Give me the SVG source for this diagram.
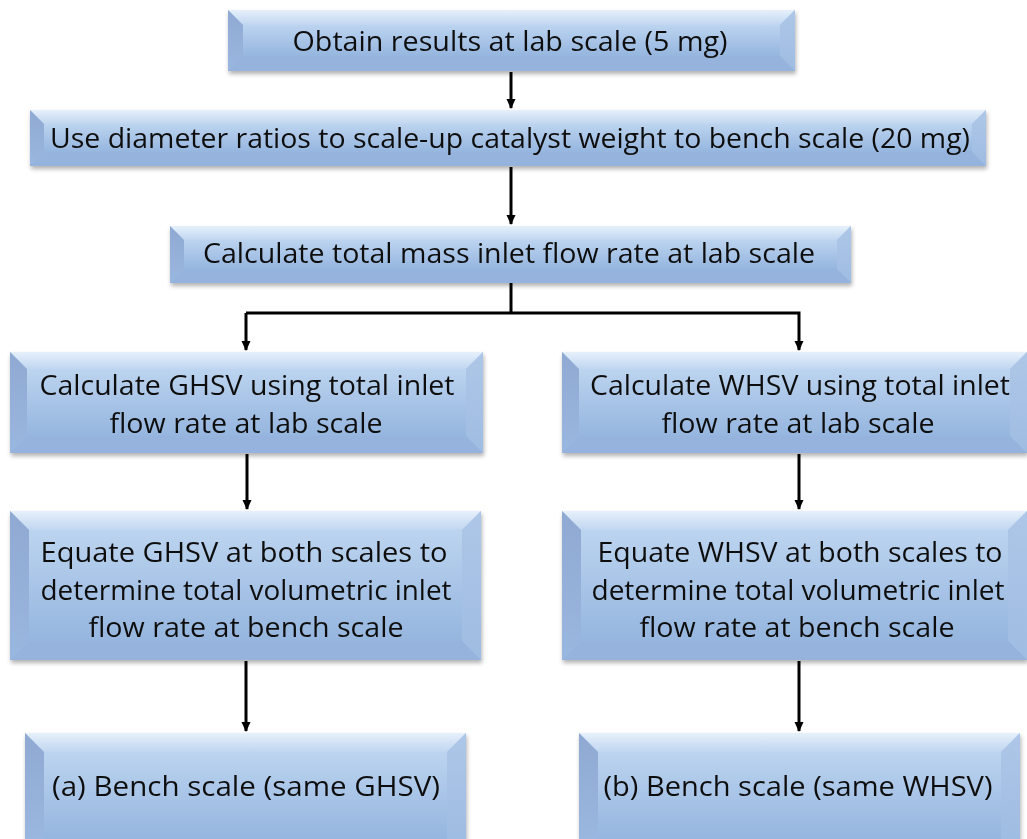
<svg xmlns="http://www.w3.org/2000/svg" width="1027" height="839" viewBox="0 0 1027 839">
<style>
.face{fill:url(#gFace)}
.bt{fill:url(#gTop)}
.bl{fill:url(#gLeft)}
.br{fill:url(#gRight)}
.bb{fill:#95b3dc}
.t{font-family:"Open Sans","Noto Sans",sans-serif;font-size:27px;fill:#111;text-anchor:middle}
.c{stroke:#000;stroke-width:3;fill:none}
</style>
<defs>
<linearGradient id="gFace" x1="0" y1="0" x2="0" y2="1">
<stop offset="0" stop-color="#bcd4ef"/>
<stop offset="0.5" stop-color="#a8c4e7"/>
<stop offset="1" stop-color="#96b6df"/>
</linearGradient>
<linearGradient id="gTop" x1="0" y1="0" x2="0" y2="1">
<stop offset="0" stop-color="#e6f0fb"/>
<stop offset="1" stop-color="#c0d6f0"/>
</linearGradient>
<linearGradient id="gLeft" x1="0" y1="0" x2="0" y2="1">
<stop offset="0" stop-color="#8fa9d2"/>
<stop offset="1" stop-color="#9ab7df"/>
</linearGradient>
<linearGradient id="gRight" x1="0" y1="0" x2="0" y2="1">
<stop offset="0" stop-color="#aec7e8"/>
<stop offset="1" stop-color="#9fbce2"/>
</linearGradient>
<filter id="sh" x="-5%" y="-10%" width="110%" height="130%">
<feDropShadow dx="1" dy="3" stdDeviation="2" flood-color="#000" flood-opacity="0.3"/>
</filter>
<marker id="ah" markerWidth="10" markerHeight="10" refX="9" refY="5" orient="auto" markerUnits="userSpaceOnUse">
<path d="M0,0.5 L10,5 L0,9.5 Z" fill="#000"/>
</marker>
</defs>
<rect width="1027" height="839" fill="#fff"/>

<g id="connectors">
<line class="c" x1="511" y1="72" x2="511" y2="108" marker-end="url(#ah)"/>
<line class="c" x1="511" y1="167" x2="511" y2="224" marker-end="url(#ah)"/>
<polyline class="c" points="511,283 511,313"/>
<polyline class="c" points="246,313 799,313 799,350" marker-end="url(#ah)"/>
<line class="c" x1="246" y1="313" x2="246" y2="350" marker-end="url(#ah)"/>
<line class="c" x1="247" y1="454" x2="247" y2="509" marker-end="url(#ah)"/>
<line class="c" x1="799" y1="454" x2="799" y2="509" marker-end="url(#ah)"/>
<line class="c" x1="246" y1="661" x2="246" y2="731" marker-end="url(#ah)"/>
<line class="c" x1="799" y1="661" x2="799" y2="731" marker-end="url(#ah)"/>
</g>

<g id="n1" filter="url(#sh)">
<rect class="face" x="228" y="10" width="567" height="61"/>
<polygon class="bt" points="228,10 795,10 780,25 243,25"/>
<polygon class="bl" points="228,10 243,25 243,56 228,71"/>
<polygon class="br" points="795,10 795,71 780,56 780,25"/>
<polygon class="bb" points="228,71 243,56 780,56 795,71"/>
<rect x="243" y="25" width="537" height="31" class="face"/>
<text class="t" x="510" y="51" textLength="435" lengthAdjust="spacingAndGlyphs">Obtain results at lab scale (5 mg)</text>
</g>

<g id="n2" filter="url(#sh)">
<rect class="face" x="30" y="110" width="956" height="56"/>
<polygon class="bt" points="30,110 986,110 972,124 44,124"/>
<polygon class="bl" points="30,110 44,124 44,152 30,166"/>
<polygon class="br" points="986,110 986,166 972,152 972,124"/>
<polygon class="bb" points="30,166 44,152 972,152 986,166"/>
<rect x="44" y="124" width="928" height="28" class="face"/>
<text class="t" x="510" y="148" textLength="920" lengthAdjust="spacingAndGlyphs">Use diameter ratios to scale-up catalyst weight to bench scale (20 mg)</text>
</g>

<g id="n3" filter="url(#sh)">
<rect class="face" x="170" y="226" width="681" height="57"/>
<polygon class="bt" points="170,226 851,226 837,240 184,240"/>
<polygon class="bl" points="170,226 184,240 184,269 170,283"/>
<polygon class="br" points="851,226 851,283 837,269 837,240"/>
<polygon class="bb" points="170,283 184,269 837,269 851,283"/>
<rect x="184" y="240" width="653" height="29" class="face"/>
<text class="t" x="509" y="263" textLength="612" lengthAdjust="spacingAndGlyphs">Calculate total mass inlet flow rate at lab scale</text>
</g>

<g id="n4a" filter="url(#sh)">
<rect class="face" x="10" y="352" width="473" height="101"/>
<polygon class="bt" points="10,352 483,352 466,369 27,369"/>
<polygon class="bl" points="10,352 27,369 27,436 10,453"/>
<polygon class="br" points="483,352 483,453 466,436 466,369"/>
<polygon class="bb" points="10,453 27,436 466,436 483,453"/>
<rect x="27" y="369" width="439" height="67" class="face"/>
<text class="t" x="247" y="395" textLength="415" lengthAdjust="spacingAndGlyphs">Calculate GHSV using total inlet</text>
<text class="t" x="246" y="433" textLength="273" lengthAdjust="spacingAndGlyphs">flow rate at lab scale</text>
</g>

<g id="n4b" filter="url(#sh)">
<rect class="face" x="562" y="352" width="465" height="101"/>
<polygon class="bt" points="562,352 1027,352 1010,369 579,369"/>
<polygon class="bl" points="562,352 579,369 579,436 562,453"/>
<polygon class="br" points="1027,352 1027,453 1010,436 1010,369"/>
<polygon class="bb" points="562,453 579,436 1010,436 1027,453"/>
<rect x="579" y="369" width="431" height="67" class="face"/>
<text class="t" x="800" y="395" textLength="420" lengthAdjust="spacingAndGlyphs">Calculate WHSV using total inlet</text>
<text class="t" x="798" y="433" textLength="273" lengthAdjust="spacingAndGlyphs">flow rate at lab scale</text>
</g>

<g id="n5a" filter="url(#sh)">
<rect class="face" x="10" y="511" width="471" height="149"/>
<polygon class="bt" points="10,511 481,511 462,530 29,530"/>
<polygon class="bl" points="10,511 29,530 29,641 10,660"/>
<polygon class="br" points="481,511 481,660 462,641 462,530"/>
<polygon class="bb" points="10,660 29,641 462,641 481,660"/>
<rect x="29" y="530" width="433" height="111" class="face"/>
<text class="t" x="244" y="562" textLength="407" lengthAdjust="spacingAndGlyphs">Equate GHSV at both scales to</text>
<text class="t" x="246" y="600" textLength="411" lengthAdjust="spacingAndGlyphs">determine total volumetric inlet</text>
<text class="t" x="246" y="637" textLength="315" lengthAdjust="spacingAndGlyphs">flow rate at bench scale</text>
</g>

<g id="n5b" filter="url(#sh)">
<rect class="face" x="562" y="511" width="465" height="149"/>
<polygon class="bt" points="562,511 1027,511 1008,530 581,530"/>
<polygon class="bl" points="562,511 581,530 581,641 562,660"/>
<polygon class="br" points="1027,511 1027,660 1008,641 1008,530"/>
<polygon class="bb" points="562,660 581,641 1008,641 1027,660"/>
<rect x="581" y="530" width="427" height="111" class="face"/>
<text class="t" x="800" y="562" textLength="405" lengthAdjust="spacingAndGlyphs">Equate WHSV at both scales to</text>
<text class="t" x="798" y="600" textLength="413" lengthAdjust="spacingAndGlyphs">determine total volumetric inlet</text>
<text class="t" x="797" y="637" textLength="315" lengthAdjust="spacingAndGlyphs">flow rate at bench scale</text>
</g>

<g id="n6a" filter="url(#sh)">
<rect class="face" x="25" y="733" width="441" height="106"/>
<polygon class="bt" points="25,733 466,733 447,752 44,752"/>
<polygon class="bl" points="25,733 44,752 44,839 25,839"/>
<polygon class="br" points="466,733 466,839 447,839 447,752"/>
<rect x="44" y="752" width="403" height="87" class="face"/>
<text class="t" x="246" y="796" textLength="388" lengthAdjust="spacingAndGlyphs">(a) Bench scale (same GHSV)</text>
</g>

<g id="n6b" filter="url(#sh)">
<rect class="face" x="579" y="733" width="441" height="106"/>
<polygon class="bt" points="579,733 1020,733 1001,752 598,752"/>
<polygon class="bl" points="579,733 598,752 598,839 579,839"/>
<polygon class="br" points="1020,733 1020,839 1001,839 1001,752"/>
<rect x="598" y="752" width="403" height="87" class="face"/>
<text class="t" x="798" y="796" textLength="389" lengthAdjust="spacingAndGlyphs">(b) Bench scale (same WHSV)</text>
</g>
</svg>
